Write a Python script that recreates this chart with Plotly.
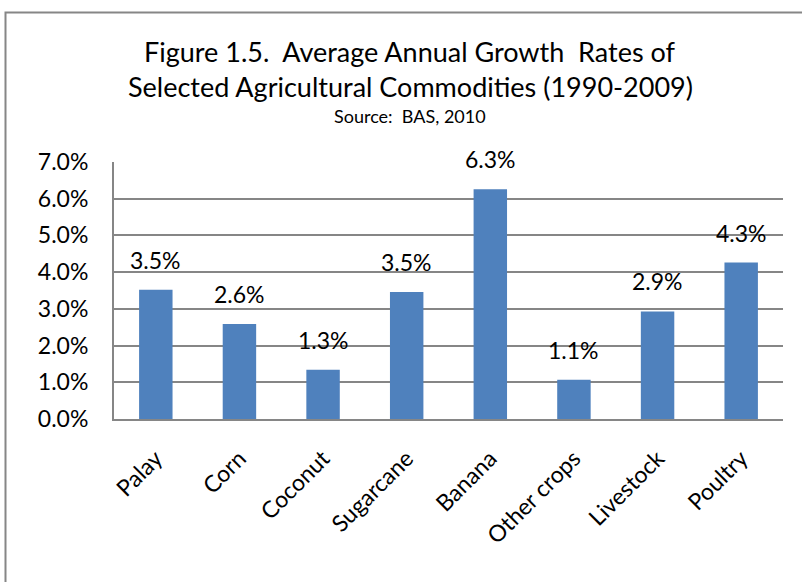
import plotly.graph_objects as go

# Average annual growth rates, 1990-2009 (fractions)
commodities = ["Palay", "Corn", "Coconut", "Sugarcane", "Banana",
               "Other crops", "Livestock", "Poultry"]
growth_rates = [0.0352, 0.0259, 0.0134, 0.0346, 0.0626, 0.0107, 0.0293, 0.0426]
y_ticks = [0.0, 0.01, 0.02, 0.03, 0.04, 0.05, 0.06, 0.07]

FONT = "Lato"
BAR_COLOR = "#4F81BD"
GRID = "#868686"

W, H = 802, 582
L, R, T, B = 114, 19, 162, 163
plot_h = H - T - B
plot_w = W - L - R


def py(pixel_y):
    """Convert a page pixel row to paper y."""
    return (H - B - pixel_y) / plot_h


def px(pixel_x):
    """Convert a page pixel column to paper x."""
    return (pixel_x - L) / plot_w


fig = go.Figure()
fig.add_trace(go.Bar(
    x=commodities,
    y=growth_rates,
    marker=dict(color=BAR_COLOR, line=dict(width=0)),
    hoverinfo="x+y",
))

# value labels above each bar
for name, val in zip(commodities, growth_rates):
    fig.add_annotation(
        x=name, y=val, xref="x", yref="y",
        text=f"{val:.1%}", showarrow=False,
        yanchor="bottom", yshift=14,
        font=dict(family=FONT, size=23, color="#000000"),
    )

# title block
title_lines = [
    ("Figure 1.5.  Average Annual Growth  Rates of", 27, 51),
    ("Selected Agricultural Commodities (1990-2009)", 27, 87),
    ("Source:  BAS, 2010", 18, 116),
]
for text, size, ypix in title_lines:
    fig.add_annotation(
        x=px(410), y=py(ypix), xref="paper", yref="paper",
        text=text.replace("  ", "&nbsp; "), showarrow=False,
        xanchor="center", yanchor="middle",
        font=dict(family=FONT, size=size, color="#000000"),
    )

# outer frame of the chart
fig.add_shape(
    type="rect", xref="paper", yref="paper",
    x0=px(5.5), x1=px(815), y0=py(600), y1=py(12.5),
    line=dict(color=GRID, width=2), fillcolor="rgba(0,0,0,0)",
    layer="below",
)

fig.update_layout(
    width=W, height=H,
    margin=dict(l=L, r=R, t=T, b=B, autoexpand=False),
    paper_bgcolor="white",
    plot_bgcolor="white",
    bargap=0.60,
    showlegend=False,
    font=dict(family=FONT, color="#000000"),
    xaxis=dict(
        tickangle=-45,
        tickfont=dict(family=FONT, size=23, color="#000000"),
        showline=True, linecolor=GRID, linewidth=2,
        showgrid=False, ticks="", ticklabelstandoff=15,
    ),
    yaxis=dict(
        range=[0, 0.07],
        tickvals=y_ticks,
        tickformat=".1%",
        tickfont=dict(family=FONT, size=23, color="#000000"),
        showgrid=True, gridcolor=GRID, gridwidth=2,
        showline=True, linecolor=GRID, linewidth=2,
        zeroline=False, ticks="", ticklabelstandoff=19,
    ),
)

fig.write_html("out.html")
